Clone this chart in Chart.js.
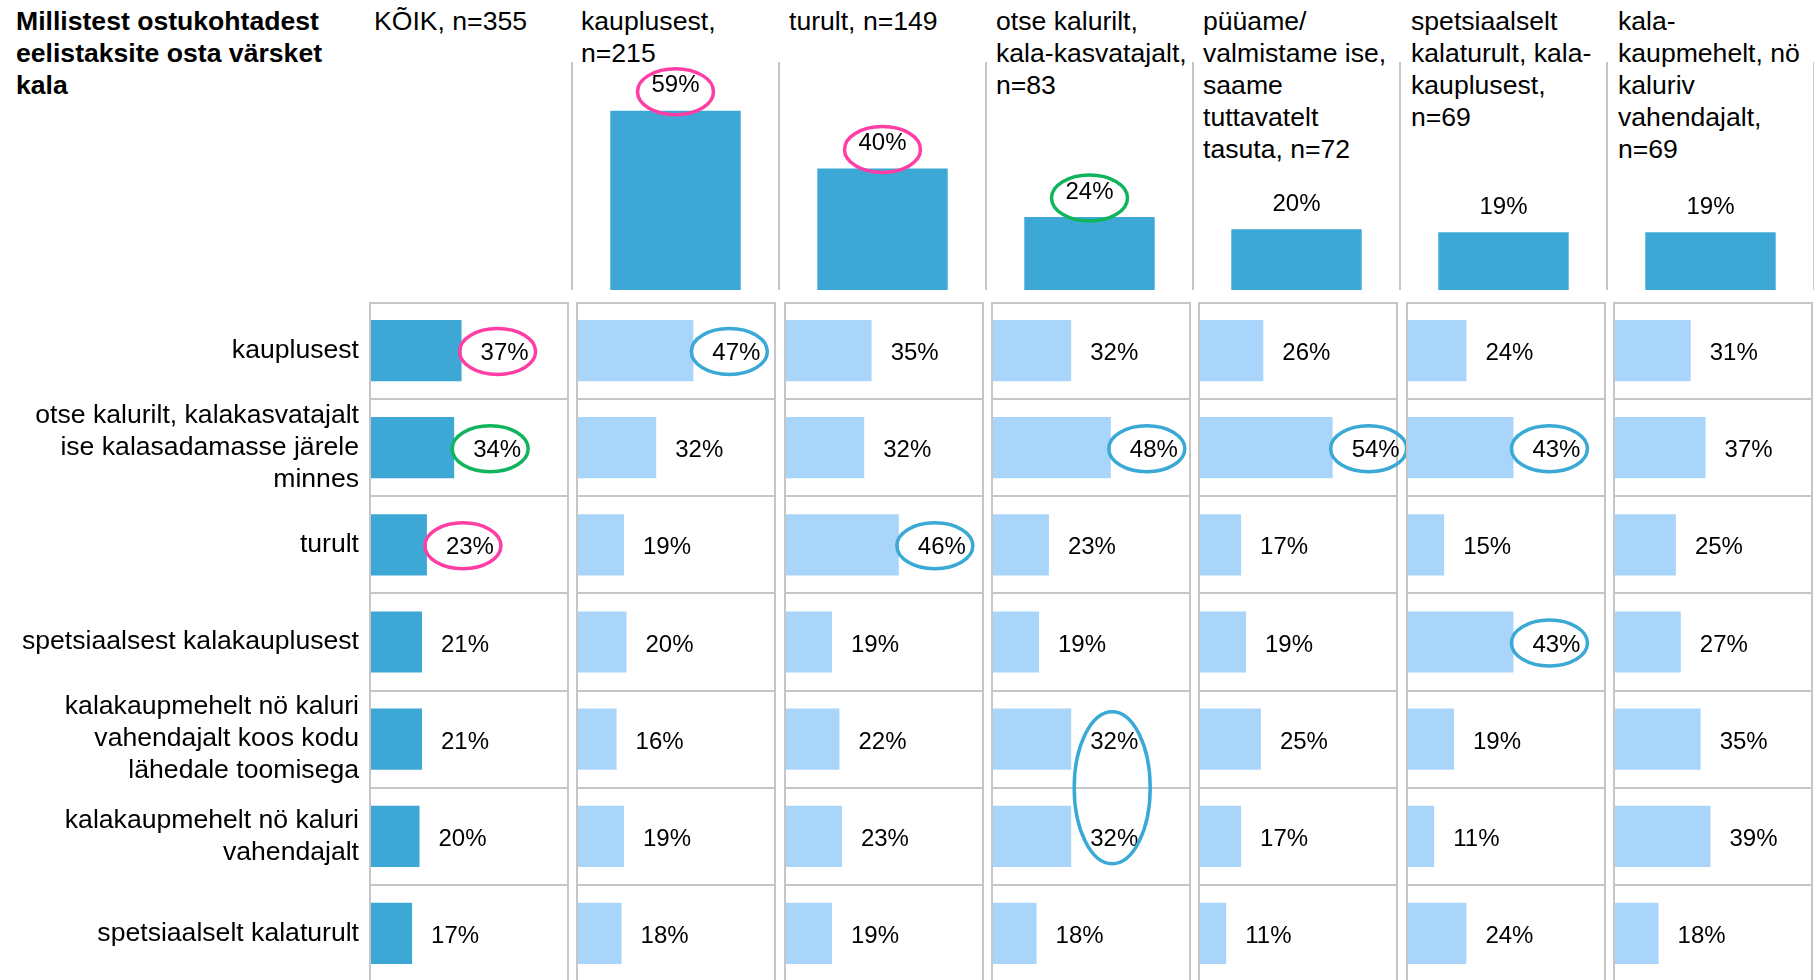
<!DOCTYPE html>
<html>
<head>
<meta charset="utf-8">
<script src="https://cdn.jsdelivr.net/npm/chart.js@4.4.0/dist/chart.umd.min.js"></script>
<style>
  html, body { margin: 0; padding: 0; background: #fff; }
  body { width: 1814px; height: 980px; position: relative; overflow: hidden;
         font-family: 'Liberation Sans', Arial, sans-serif; color: #000; }
  canvas { position: absolute; }
  .title { position: absolute; left: 16px; top: 5px; font-weight: bold; font-size: 26.6px; line-height: 32px; white-space: pre; }
  .head { position: absolute; top: 5px; font-size: 26.6px; line-height: 32px; white-space: pre; }
</style>
</head>
<body>
<div class="title">Millistest ostukohtadest
eelistaksite osta värsket
kala</div>
<div id="heads"></div>
<canvas id="topChart" width="1252" height="290" style="left:562px;top:0px"></canvas>
<div id="grid"></div>
<script>
// column headers: respondent groups (by where they buy fish now)
var groups = [
    'KÕIK, n=355',
    'kauplusest,\nn=215',
    'turult, n=149',
    'otse kalurilt,\nkala-kasvatajalt,\nn=83',
    'püüame/\nvalmistame ise,\nsaame\ntuttavatelt\ntasuta, n=72',
    'spetsiaalselt\nkalaturult, kala-\nkauplusest,\nn=69',
    'kala-\nkaupmehelt, nö\nkaluriv\nvahendajalt,\nn=69'
];
// row labels: preferred places to buy fresh fish
var places = [
    ['kauplusest'],
    ['otse kalurilt, kalakasvatajalt', 'ise kalasadamasse järele', 'minnes'],
    ['turult'],
    ['spetsiaalsest kalakauplusest'],
    ['kalakaupmehelt nö kaluri', 'vahendajalt koos kodu', 'lähedale toomisega'],
    ['kalakaupmehelt nö kaluri', 'vahendajalt'],
    ['spetsiaalselt kalaturult']
];
// top bars: share of each group (no bar for KÕIK), %
var groupShare = [59, 40, 24, 20, 19, 19];

// preferred places, % per group (one array per column)
var koik = [37, 34, 23, 21, 21, 20, 17];
var kauplusest = [47, 32, 19, 20, 16, 19, 18];
var turult = [35, 32, 46, 19, 22, 23, 19];
var otseKalurilt = [32, 48, 23, 19, 32, 32, 18];
var pyyameIse = [26, 54, 17, 19, 25, 17, 11];
var spetsKalaturult = [24, 43, 15, 43, 19, 11, 24];
var kalakaupmehelt = [31, 37, 25, 27, 35, 39, 18];
var columns = [koik, kauplusest, turult, otseKalurilt, pyyameIse, spetsKalaturult, kalakaupmehelt];

// hand drawn rings in the original
var topRings = [{ row: 0, kind: 'pink' }, { row: 1, kind: 'pink' }, { row: 2, kind: 'green' }];
var gridRings = [
    { col: 0, row: 0, kind: 'pink' }, { col: 0, row: 1, kind: 'green' }, { col: 0, row: 2, kind: 'pink' },
    { col: 1, row: 0, kind: 'blue' },
    { col: 2, row: 2, kind: 'blue' },
    { col: 3, row: 1, kind: 'blue' }, { col: 3, row: 4, kind: 'blue', rows: 2 },
    { col: 4, row: 1, kind: 'blue' },
    { col: 5, row: 1, kind: 'blue' }, { col: 5, row: 3, kind: 'blue' }
];

var FONT = "'Liberation Sans', Arial, sans-serif";
var DARK = '#3da8d6';
var LIGHT = '#aad5fb';
var LINE = '#c6c6c6';
var ringColours = { pink: '#ff3ea5', green: '#10b45c', blue: '#3ba9d6' };

// layout of the lower grid
var GRID_TOP = 302;
var BOX_W = 198;
var colLeft = function (i) { return Math.round(370 + i * 207.33); };

// value labels next to / above the bars
var valueLabels = {
    id: 'valueLabels',
    afterDatasetsDraw: function (chart) {
        var ctx = chart.ctx;
        var horizontal = chart.options.indexAxis === 'y';
        var values = chart.data.datasets[0].data;
        ctx.save();
        ctx.fillStyle = '#000';
        ctx.font = '24px ' + FONT;
        ctx.textBaseline = 'middle';
        chart.getDatasetMeta(0).data.forEach(function (bar, i) {
            var txt = values[i] + '%';
            if (horizontal) {
                ctx.textAlign = 'left';
                ctx.fillText(txt, bar.x + 19, bar.y + 3);
            } else {
                ctx.textAlign = 'center';
                ctx.fillText(txt, bar.x, bar.y - 25);
            }
        });
        ctx.restore();
    }
};

// frame + row separators of each grid column
var cellFrame = {
    id: 'cellFrame',
    afterDatasetsDraw: function (chart) {
        if (chart.options.indexAxis !== 'y') return;
        var a = chart.chartArea, y = chart.scales.y, ctx = chart.ctx;
        ctx.save();
        ctx.strokeStyle = LINE;
        ctx.lineWidth = 2;
        ctx.strokeRect(a.left, a.top + 1, a.right - a.left, a.bottom - a.top);
        for (var i = 1; i < chart.data.labels.length; i++) {
            var yy = Math.round((y.getPixelForValue(i - 1) + y.getPixelForValue(i)) / 2);
            ctx.beginPath();
            ctx.moveTo(a.left, yy);
            ctx.lineTo(a.right, yy);
            ctx.stroke();
        }
        ctx.restore();
    }
};

// ellipses round highlighted values
var rings = {
    id: 'rings',
    afterDatasetsDraw: function (chart, args, opts) {
        var marks = opts.marks || [];
        var meta = chart.getDatasetMeta(0);
        var ctx = chart.ctx;
        ctx.save();
        ctx.lineWidth = 3.5;
        marks.forEach(function (m) {
            var bar = meta.data[m.row];
            var cx, cy, rx = 38, ry = 23;
            if (chart.options.indexAxis === 'y') {
                cx = bar.x + 36;
                cy = bar.y + 1;
                if (m.rows === 2) {
                    cy = (bar.y + meta.data[m.row + 1].y) / 2;
                    cx = bar.x + 41;
                    ry = 76;
                }
            } else {
                cx = bar.x;
                cy = bar.y - 19;
            }
            ctx.strokeStyle = ringColours[m.kind];
            ctx.beginPath();
            ctx.ellipse(cx, cy, rx, ry, 0, 0, 2 * Math.PI);
            ctx.stroke();
        });
        ctx.restore();
    }
};

// headers
var heads = document.getElementById('heads');
groups.forEach(function (g, i) {
    var d = document.createElement('div');
    d.className = 'head';
    d.style.left = (colLeft(i) + 4) + 'px';
    d.textContent = g;
    heads.appendChild(d);
});

// top chart: one bar per group
new Chart(document.getElementById('topChart'), {
    type: 'bar',
    data: {
        labels: groups.slice(1),
        datasets: [{
            data: groupShare,
            backgroundColor: DARK,
            barPercentage: 0.63,
            categoryPercentage: 1
        }]
    },
    options: {
        responsive: false,
        animation: false,
        layout: { padding: { left: 10, top: 62, right: 0, bottom: 0 } },
        plugins: {
            legend: { display: false },
            tooltip: { enabled: false },
            rings: { marks: topRings }
        },
        scales: {
            x: {
                display: true,
                ticks: { display: false },
                grid: { offset: true, drawTicks: false, color: LINE, lineWidth: 2 },
                border: { display: false }
            },
            y: { display: false, min: 0, max: 75 }
        }
    },
    plugins: [valueLabels, rings]
});

// lower grid: one horizontal bar chart per group
var grid = document.getElementById('grid');
columns.forEach(function (values, c) {
    var first = c === 0;
    var canvas = document.createElement('canvas');
    var left = first ? 0 : colLeft(c) - 4;
    var width = first ? colLeft(0) + BOX_W + 10 : BOX_W + 14;
    canvas.width = width;
    canvas.height = 680;
    canvas.style.left = left + 'px';
    canvas.style.top = GRID_TOP + 'px';
    grid.appendChild(canvas);

    var yAxis = { display: false };
    if (first) {
        // row labels live on the y axis of the first column
        yAxis = {
            display: true,
            grid: { display: false, drawTicks: false },
            border: { display: false },
            ticks: {
                autoSkip: false,
                color: '#000',
                padding: 11,
                font: { family: FONT, size: 26.6, lineHeight: '32px' }
            },
            afterFit: function (scale) {
                scale.width = colLeft(0);
                scale.paddingTop = 0;
                scale.paddingBottom = 0;
            }
        };
    }

    new Chart(canvas, {
        type: 'bar',
        data: {
            labels: places,
            datasets: [{
                data: values,
                backgroundColor: first ? DARK : LIGHT,
                barPercentage: 0.63,
                categoryPercentage: 1
            }]
        },
        options: {
            indexAxis: 'y',
            responsive: false,
            animation: false,
            layout: { padding: { left: first ? 0 : 4, right: 10, top: 0, bottom: 0 } },
            plugins: {
                legend: { display: false },
                tooltip: { enabled: false },
                rings: {
                    marks: gridRings.filter(function (r) { return r.col === c; })
                }
            },
            scales: {
                x: { display: false, min: 0, max: 80 },
                y: yAxis
            }
        },
        plugins: [cellFrame, valueLabels, rings]
    });
});
</script>
</body>
</html>
